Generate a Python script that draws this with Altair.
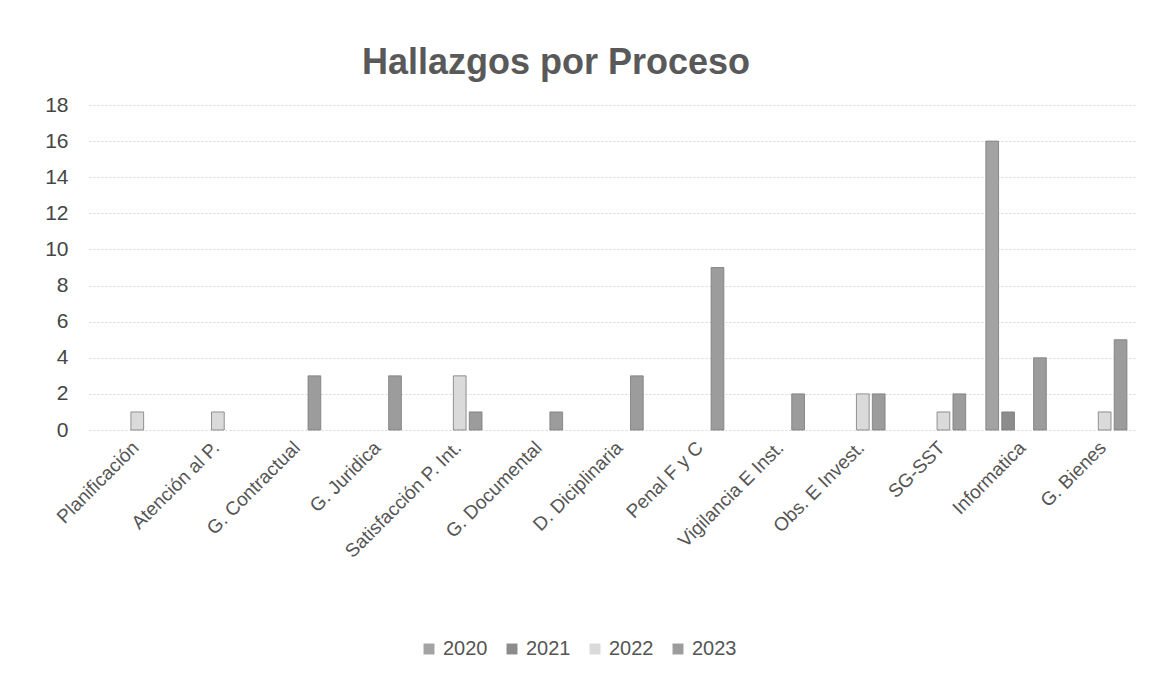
import altair as alt
import pandas as pd

categories = ["Planificación", "Atención al P.", "G. Contractual", "G. Juridica",
              "Satisfacción P. Int.", "G. Documental", "D. Diciplinaria", "Penal F y C",
              "Vigilancia E Inst.", "Obs. E Invest.", "SG-SST", "Informatica", "G. Bienes"]
years = ["2020", "2021", "2022", "2023"]

v2020 = [0, 0, 0, 0, 0, 0, 0, 0, 0, 0, 0, 16, 0]
v2021 = [0, 0, 0, 0, 0, 0, 0, 0, 0, 0, 0, 1, 0]
v2022 = [1, 1, 0, 0, 3, 0, 0, 0, 0, 2, 1, 0, 1]
v2023 = [0, 0, 3, 3, 1, 1, 3, 9, 2, 2, 2, 4, 5]

colors = ["#a3a3a3", "#8c8c8c", "#dadada", "#9c9c9c"]

rows = []
for yr, vals in zip(years, [v2020, v2021, v2022, v2023]):
    for c, v in zip(categories, vals):
        if v > 0:
            rows.append({"Proceso": c, "Año": yr, "Hallazgos": v})
df = pd.DataFrame(rows)

FONT = "Liberation Sans"

chart = alt.Chart(df).mark_bar(stroke="#7a7a7a", strokeWidth=0.8).encode(
    x=alt.X("Proceso:N", sort=categories, title=None,
            scale=alt.Scale(domain=categories, paddingInner=0.25, paddingOuter=0.125),
            axis=alt.Axis(labelAngle=-45, labelFontSize=19, labelColor="#555555",
                          labelFont=FONT, ticks=False, domain=False, labelPadding=8,
                          labelOverlap=False, labelLimit=300)),
    xOffset=alt.XOffset("Año:N", scale=alt.Scale(domain=years, paddingInner=0.2)),
    y=alt.Y("Hallazgos:Q", title=None,
            scale=alt.Scale(domain=[0, 18], nice=False),
            axis=alt.Axis(values=list(range(0, 19, 2)), labelFontSize=21,
                          labelColor="#454545", labelFont=FONT, ticks=False,
                          domain=False, labelPadding=21, gridColor="#d6d6d6",
                          gridDash=[2, 2], gridWidth=1)),
    color=alt.Color("Año:N", scale=alt.Scale(domain=years, range=colors),
                    legend=alt.Legend(title=None, orient="none", direction="horizontal",
                                      legendX=330, legendY=534, symbolType="square",
                                      symbolSize=120, symbolStrokeWidth=0,
                                      labelFontSize=20, labelColor="#555555",
                                      labelFont=FONT, columnPadding=14)),
).properties(
    width=1048,
    height=325,
    padding={"left": 36, "top": 37, "right": 10, "bottom": 10},
    title=alt.TitleParams("Hallazgos por Proceso", fontSize=36, font=FONT,
                          fontWeight="bold", color="#595959", offset=12, dx=-57),
).configure_view(stroke=None)

chart.save("out.html", embed_options={"renderer": "svg", "actions": False})
